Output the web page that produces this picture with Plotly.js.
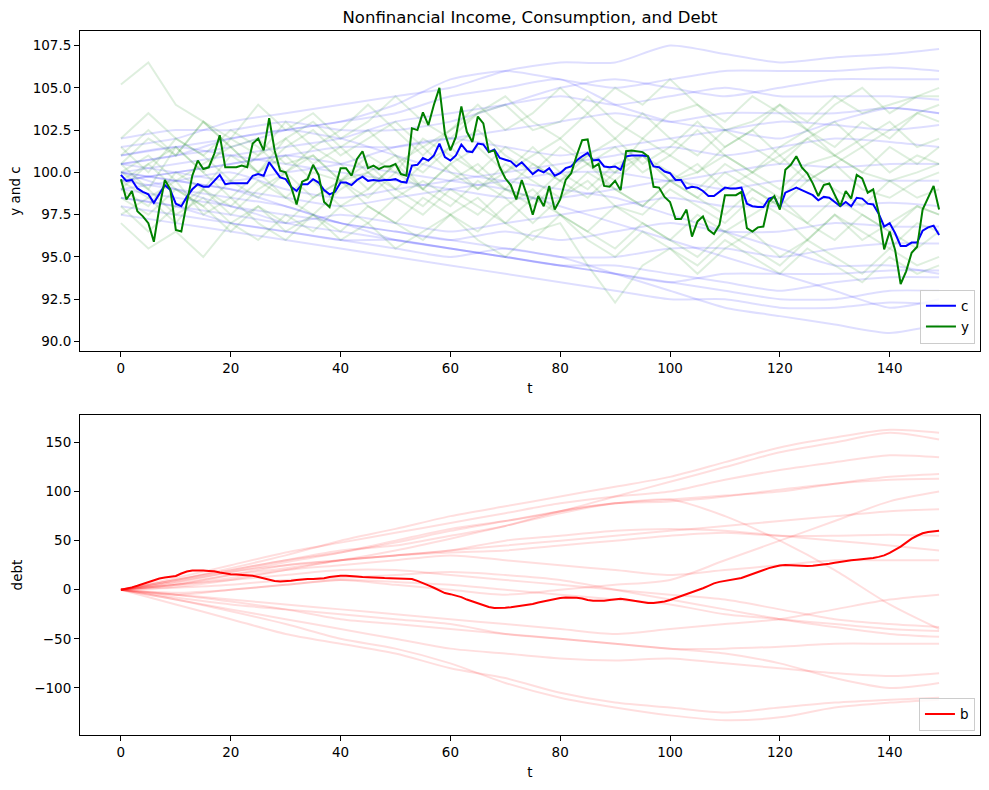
<!DOCTYPE html>
<html><head><meta charset="utf-8">
<script src="https://cdn.plot.ly/plotly-3.0.1.min.js"></script>
<style>body{margin:0;background:#fff}#chart{width:989px;height:790px}</style>
</head><body><div id="chart"></div>
<script>
// ---- main series (t = 0..149) ----
const yMain = [99.6,98.4,98.9,97.7,97.4,97.0,95.9,97.9,99.55,99.0,
96.6,96.5,98.2,99.8,100.7,100.2,100.3,101.1,102.2,100.3,
100.3,100.3,100.4,100.3,101.7,102.0,101.3,103.2,101.3,100.1,
100.0,99.15,98.1,99.45,99.6,100.45,99.85,98.25,97.95,99.1,
100.25,100.25,99.8,100.8,101.25,100.25,100.4,100.2,100.35,100.35,
100.5,99.9,99.8,102.6,102.5,103.55,102.8,104.0,105.0,102.3,
101.3,102.1,103.9,102.4,101.8,103.3,102.9,101.2,101.3,100.3,
99.65,99.25,98.4,99.55,98.6,97.5,98.6,98.0,99.2,97.8,
98.4,99.55,99.95,101.0,101.9,101.95,100.3,100.5,99.2,99.15,
99.5,98.95,101.25,101.3,101.25,101.2,100.95,99.15,99.1,98.55,
98.25,97.25,97.25,97.8,96.2,97.1,97.4,96.6,96.35,96.9,
98.65,98.65,98.65,98.85,96.7,96.5,96.75,96.8,98.25,98.6,
97.8,100.15,100.45,100.95,100.3,99.95,99.35,98.6,99.25,99.35,
98.65,98.0,98.9,98.45,99.85,99.65,98.8,99.0,97.6,95.45,
96.5,95.4,93.4,94.15,95.25,95.6,97.8,98.55,99.2,97.8];

const cMain = [99.85,99.5,99.55,99.05,98.85,98.7,98.2,98.7,99.25,98.95,
98.15,98.0,98.55,99.0,99.3,99.15,99.15,99.5,99.85,99.3,
99.35,99.35,99.35,99.35,99.8,99.9,99.8,100.6,100.15,99.7,
99.6,99.15,98.9,99.3,99.3,99.6,99.4,98.95,98.7,98.85,
99.4,99.4,99.25,99.55,99.75,99.5,99.55,99.5,99.55,99.55,
99.6,99.45,99.4,100.4,100.45,100.85,100.7,101.0,101.7,100.9,
100.7,101.0,101.65,101.25,101.2,101.7,101.65,101.2,101.35,100.85,
100.75,100.65,100.35,100.6,100.25,99.9,100.15,100.0,100.25,99.8,
99.95,100.25,100.35,100.7,100.95,101.15,100.7,100.75,100.35,100.3,
100.35,100.15,100.95,101.0,101.0,101.0,100.95,100.35,100.3,100.05,
99.95,99.55,99.55,99.05,99.15,99.1,98.9,98.6,98.6,98.85,
99.1,99.05,99.05,99.1,98.15,98.0,97.95,97.95,98.45,98.55,
97.9,98.8,98.95,99.1,98.95,98.8,98.65,98.35,98.55,98.5,
98.25,98.0,98.25,98.0,98.5,98.45,98.15,98.1,97.55,96.8,
97.0,96.4,95.65,95.65,95.85,95.85,96.55,96.75,96.85,96.3];

const bMain = [0,1,2.4,4,6,8,10,11.5,12.5,13,
14,16.5,18.5,19.5,19.8,19.5,19.2,18.8,17.5,16.3,
15.8,15.5,15.2,14.8,14.2,13,11.8,10,9,8.5,
8.6,9.2,10,10.8,11,10.9,11.2,11.8,13,14,
14.3,14.3,14.2,13.6,13,12.6,12.3,12,11.9,11.8,
11.7,11.4,11.2,11,9,7,4.5,2,-1,-3.4,
-4.5,-6,-7.5,-10,-12,-14,-16.3,-17.5,-18.6,-18.8,
-18.3,-17.8,-17,-16.3,-15.5,-14.5,-13,-11.8,-10.6,-9.5,
-8.5,-7.8,-7.8,-8.2,-9,-10.5,-11.2,-11.5,-11.2,-10.5,
-10,-9.3,-10,-11,-11.5,-12.5,-13.5,-13.6,-13,-12,
-10.5,-8.5,-6.5,-5,-3,-0.5,1.5,4,6.5,8,
9,10,11,12,14,16,18,20.5,22,23.5,
24.8,25.2,24.8,24.5,24.3,24.3,24.5,25,25.8,26.5,
27.5,28.5,29.3,30,30.5,31,31.5,32.3,33.5,35,
37.5,40.5,44,48,52,55,57.5,58.8,59.6,60.2];

// ---- background simulated paths (read coarsely) ----
const tStep10 = [0,10,20,30,40,50,60,70,80,90,100,110,120,130,140,149];
const tStep5 = [0,5,10,15,20,25,30,35,40,45,50,55,60,65,70,75,80,85,90,95,100,105,110,115,120,125,130,135,140,145,149];

const cPaths = [
[101.5,102,103,103.5,104,104.5,105,106,106.5,106.5,107.5,107,106.5,106.8,107,107.3],
[100.5,101,101.5,102.5,103,104,105.5,106,105.5,105,105.5,106,106,106,106.2,106],
[102,102.5,102.5,103,102.5,102.5,103,104,105,105.5,105,104.5,105,105.5,105.5,105.5],
[100,100.5,101,101.5,102,103,103.5,104,104.5,104,104.5,105,104.5,104.5,104.5,104.3],
[99.5,100,100.5,101,101.5,101.5,102,102.5,103,103.5,103,103.5,103.5,103.5,103.8,103.5],
[100.5,100,99.5,100,100.5,101.5,102,101.5,101,101.5,102,102.5,103,102.8,102.5,102.8],
[99,99.5,100,99,98.5,99,99.5,100,100.5,101,101.5,101,101.5,102,101.8,101.5],
[100,99.5,99,98.5,98,98.5,99,99.5,100,100,99.5,100,100.5,100.3,100.5,100.5],
[101,101.5,101,100.5,100,99.5,99,98.5,98.5,99,99.5,99,99.5,99.5,99.5,99.5],
[98.5,98,97.5,97,97.5,97,96.5,97,97.5,98,98.5,98,98,98,98.2,98],
[99.5,99,98.5,98,97,96.5,96,96.5,96,96.5,97,96.5,96.5,97,96.8,96.8],
[98,97.5,97,96.5,96,95.5,95,95.5,95,95,95.5,95.5,95,95.5,95.8,95.8],
[100,99,98,97.5,97,96,95.5,95,94.5,94,93.5,94,94,94,94.2,94.2],
[99,98.5,98,97,96.5,96,95.5,95,94.5,94.5,94,93.5,93,93.5,93.8,93.8],
[98.5,98,97,96.5,96,96,95.5,95,94.5,94,93.5,93,92.5,92.5,93,93],
[97.5,97,96.5,96,95.5,95,94.5,94,93.5,93,92.5,92.5,92,92,92.3,92.2],
[100,99.5,99,98,97,96.5,96,95.5,95,94,93,92,91.5,91,90.5,91],
[99.5,100,100.5,101,100.5,100,99.5,99,98,97,96,95,94,93,92,92.5],
[101,101.5,102,102.5,102,101,100,99.5,99,98.5,97.5,96.5,95.5,94.5,94.5,94],
[100.5,101,102,102.5,103,103.5,104.5,105,105.5,104,103,102.5,102,103,103.8,103.5]
];

const yPaths = [
[105.2,106.5,104,103,101.5,102,100.5,101,99.5,100,101,99,100.5,99,100,101.5,100,99,100.5,101,99.5,100,101,100,99,100.5,101,100,99.5,100,100.5],
[100.5,102,101,103,102,104,102.5,103.5,102,103,104.5,103,102,103.5,104,102.5,103,104.5,103,102,103.5,104,102.5,103,104,103,104.5,103.5,104,104.5,104.5],
[97,95.5,96.5,95,97,96,97.5,96.5,98,97,98.5,97.5,99,98,97,98.5,97.5,96.5,98,97,96,97.5,96.5,97.5,98.5,97,96,97.5,96.5,95.5,96.5],
[99,98,100,99,101,100,98.5,100,99.5,101,100,102,101,100,101.5,100.5,99.5,101,100,102,101,100,101.5,102.5,101,102,103,101.5,102.5,103.5,103],
[100.5,99,101.5,100,98.5,100,101,99.5,98,99,100.5,99,98,99.5,98.5,97,98.5,99.5,98,97.5,99,98,97,98.5,97.5,96,97.5,96.5,95.5,97,96.5],
[101,102.5,101,103,101.5,100,101.5,102.5,101,102,103,101.5,102.5,104,102.5,103.5,105,103.5,102,103.5,102,101,102.5,101.5,100.5,102,101,100,101.5,100.5,101.5],
[98.5,97.5,99,98,96.5,98,97,98.5,99.5,98,97,98.5,97.5,96.5,98,99,97.5,96,95,96.5,95.5,94.5,96,95,94,95.5,94.5,93.5,95,94,94.5],
[99.5,100.5,99,98,99.5,98.5,100,101,99.5,100.5,99,98,99.5,100.5,99,98.5,100,101,102,100.5,101.5,103,101.5,102.5,104,102.5,101.5,103,102,103.5,104],
[100,99,97.5,98.5,97,98,96.5,97.5,96,97,95.5,96.5,97.5,96,95,96.5,97,94.5,92.3,94.5,95.5,94,95.5,96.5,95,96,97.5,96,97,98,97.5],
[101.5,100,102,101,99.5,101,102,100.5,101.5,100,99,100.5,101.5,100,99,100.5,99.5,98.5,100,101,99.5,98.5,100,99,98,99.5,100.5,99,98.5,99.5,100],
[99,100.5,101.5,100,102,101,103,101.5,102.5,104,102.5,101,102.5,103.5,104.5,103,102,103.5,105,104,105.5,104,103,104.5,103.5,102.5,104,105,103.5,104.5,105],
[97.5,98.5,97,99,98,99.5,98.5,97.5,99,100,98.5,99.5,98.5,97.5,99,98,99.5,100.5,99,98,99.5,98.5,97.5,99,98,97,98.5,97.5,96.5,98,97.5],
[100,101,99.5,100.5,101.5,100,102,103,101.5,102.5,101,100,101.5,102.5,101,100,101.5,100.5,99.5,101,100,99,100.5,99.5,98.5,100,99,98,99.5,98.5,99],
[98,96.5,98,99,97.5,99,100,98.5,99.5,98.5,100,99,100.5,101.5,100,101,102,100.5,101.5,100,101,102.5,101,100,101.5,102.5,101,102,103,101.5,102],
[102,103.5,102,101,102.5,101.5,100,101.5,100.5,99,100.5,101.5,100,99,100.5,99.5,98.5,100,99,98,99.5,100.5,99,100,101,99.5,100.5,101.5,100,101,100.5],
[99.5,98.5,99.5,97.5,98.5,97,96,97.5,96.5,98,97,96,97.5,98.5,97,96,97.5,96.5,95.5,97,96,95,96.5,95.5,94.5,96,95,94,95.5,94.5,95]
];

const bPaths = [
[0,10,22,35,50,62,75,85,95,105,115,130,145,155,163,160],
[0,8,18,28,38,50,62,70,80,95,110,125,140,150,160,153],
[0,12,25,38,48,58,68,78,88,95,100,112,122,130,137,135],
[0,6,15,22,30,40,52,65,78,88,92,96,100,108,115,118],
[0,10,20,30,40,45,55,65,80,88,90,95,102,108,112,113],
[0,-5,0,5,10,5,0,-5,0,5,10,30,50,70,90,100],
[0,8,18,25,30,35,40,45,50,55,60,65,70,75,80,82],
[0,5,15,25,30,35,38,40,45,50,55,58,55,55,56,55],
[0,3,10,20,30,35,40,50,55,60,62,60,55,50,45,40],
[0,10,20,30,38,48,60,70,80,88,92,75,50,20,-15,-40],
[0,-5,-10,-15,-20,-25,-30,-35,-40,-45,-40,-35,-30,-20,-10,-5],
[0,5,10,15,20,20,15,10,5,0,-5,-10,-20,-30,-35,-38],
[0,-3,0,5,10,8,5,0,-5,-10,-15,-25,-30,-35,-40,-42],
[0,2,5,10,12,15,18,15,10,0,-10,-20,-30,-38,-45,-48],
[0,-8,-15,-20,-25,-30,-35,-45,-50,-55,-60,-60,-58,-55,-55,-55],
[0,-10,-20,-30,-40,-50,-60,-65,-70,-72,-70,-75,-80,-85,-88,-85],
[0,-15,-30,-45,-55,-65,-80,-90,-105,-115,-120,-125,-120,-115,-112,-110],
[0,-10,-22,-35,-50,-60,-75,-95,-110,-120,-128,-133,-130,-120,-115,-112],
[0,-5,-12,-20,-30,-35,-40,-45,-50,-55,-60,-65,-75,-90,-100,-95],
[0,5,12,20,25,30,35,30,25,20,15,20,25,30,30,30]
];

const tAll = Array.from({length: yMain.length}, (_, i) => i);

const traces = [];
cPaths.forEach(p => traces.push({x: tStep10, y: p, xaxis:'x', yaxis:'y', mode:'lines', showlegend:false, hoverinfo:'skip',
  line:{color:'rgba(0,0,255,0.13)', width:2, shape:'spline', smoothing:0.6}}));
yPaths.forEach(p => traces.push({x: tStep5, y: p, xaxis:'x', yaxis:'y', mode:'lines', showlegend:false, hoverinfo:'skip',
  line:{color:'rgba(0,128,0,0.13)', width:2}}));
bPaths.forEach(p => traces.push({x: tStep10, y: p, xaxis:'x2', yaxis:'y2', mode:'lines', showlegend:false, hoverinfo:'skip',
  line:{color:'rgba(255,0,0,0.13)', width:2, shape:'spline', smoothing:0.8}}));

traces.push({x: tAll, y: cMain, name:'c', xaxis:'x', yaxis:'y', mode:'lines', legend:'legend', line:{color:'#0000ff', width:2}});
traces.push({x: tAll, y: yMain, name:'y', xaxis:'x', yaxis:'y', mode:'lines', legend:'legend', line:{color:'#008000', width:2}});
traces.push({x: tAll, y: bMain, name:'b', xaxis:'x2', yaxis:'y2', mode:'lines', legend:'legend2', line:{color:'#ff0000', width:2}});

const font = {family:'DejaVu Sans, sans-serif', size:13.5, color:'#000'};
const xBase = {range:[-7.45,156.45], tickmode:'array', tickvals:[0,20,40,60,80,100,120,140],
  ticks:'outside', ticklen:5, tickwidth:1, tickcolor:'#000', showline:true, mirror:true, linecolor:'#000', linewidth:1,
  showgrid:false, zeroline:false, tickfont:font, title:{text:'t', font:font, standoff:8}};

const layout = {
  width:989, height:790, paper_bgcolor:'#fff', plot_bgcolor:'#fff', font:font,
  margin:{l:80, r:9, t:31, b:55},
  title:{text:'Nonfinancial Income, Consumption, and Debt', font:{family:'DejaVu Sans, sans-serif', size:16.5, color:'#000'},
    x:0.5, xref:'paper', y:1-17/790, yref:'container', yanchor:'middle'},
  xaxis: Object.assign({}, xBase, {anchor:'y', domain:[0,1]}),
  xaxis2: Object.assign({}, xBase, {anchor:'y2', domain:[0,1]}),
  yaxis: {anchor:'x', domain:[0.5455,1], range:[89.44,108.36], tick0:90, dtick:2.5, tickformat:'.1f',
    ticks:'outside', ticklen:5, tickwidth:1, tickcolor:'#000', showline:true, mirror:true, linecolor:'#000', linewidth:1,
    showgrid:false, zeroline:false, tickfont:font, title:{text:'y and c', font:font, standoff:8}},
  yaxis2: {anchor:'x2', domain:[0,0.4545], range:[-148,178], tick0:0, dtick:50,
    ticks:'outside', ticklen:5, tickwidth:1, tickcolor:'#000', showline:true, mirror:true, linecolor:'#000', linewidth:1,
    showgrid:false, zeroline:false, tickfont:font, title:{text:'debt', font:font, standoff:8}},
  legend:{x:0.9944, y:0.556, xanchor:'right', yanchor:'bottom', bgcolor:'rgba(255,255,255,0.8)', bordercolor:'#cccccc', borderwidth:1, font:font, tracegroupgap:0},
  legend2:{x:0.9944, y:0.006, xanchor:'right', yanchor:'bottom', bgcolor:'rgba(255,255,255,0.8)', bordercolor:'#cccccc', borderwidth:1, font:font},
  showlegend:true
};

Plotly.newPlot('chart', traces, layout, {displayModeBar:false, staticPlot:true});
</script>
</body></html>
